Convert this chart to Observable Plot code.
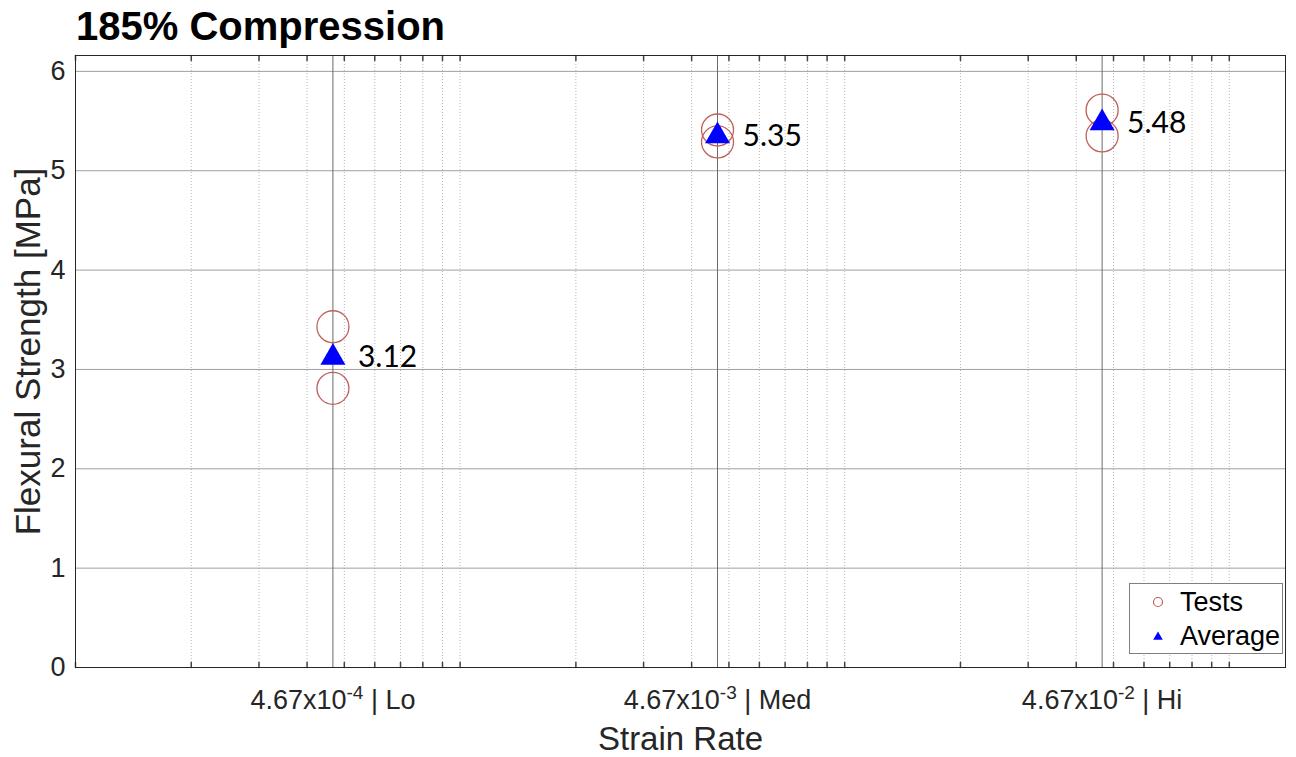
<!DOCTYPE html>
<html>
<head>
<meta charset="utf-8">
<script src="https://cdn.jsdelivr.net/npm/d3@7"></script>
<script src="https://cdn.jsdelivr.net/npm/@observablehq/plot@0.6"></script>
<style>
  html, body { margin: 0; padding: 0; background: #fff; }
  #wrap { position: relative; width: 1296px; height: 757px; overflow: hidden; font-family: "Liberation Sans", Arial, sans-serif; }
  #title { position: absolute; left: 76px; top: 4px; font-size: 40px; font-weight: bold; color: #000; line-height: 1.117; white-space: nowrap; }
  #chart { position: absolute; left: 0; top: 50px; }
  #legend { position: absolute; left: 1129px; top: 583px; width: 152px; height: 69px; border: 1px solid #7f7f7f; background: #fff; }
  #legend .row { position: absolute; left: 0; height: 34px; width: 152px; font-size: 27px; color: #000; line-height: 34px; }
  #legend svg { position: absolute; left: 18px; top: 7px; }
  #legend span { position: absolute; left: 50px; top: 0; }
</style>
</head>
<body>
<div id="wrap">
  <div id="title">185% Compression</div>
  <div id="chart"></div>
  <div id="legend"></div>
</div>
<script>
// ---- data ----
const rateValues = [4.67e-4, 4.67e-3, 4.67e-2];
const rateExponents = [-4, -3, -2];
const rateNames = ["Lo", "Med", "Hi"];
const testRate = [4.67e-4, 4.67e-4, 4.67e-3, 4.67e-3, 4.67e-2, 4.67e-2];
const testStrength = [3.43, 2.81, 5.41, 5.29, 5.61, 5.35];
const avgStrength = [3.12, 5.35, 5.48];
const yTicks = [0, 1, 2, 3, 4, 5, 6];
const xDomain = [1e-4, 0.14];
const yDomain = [0, 6.16];
const xLabel = "Strain Rate";
const yLabel = "Flexural Strength [MPa]";
const legendNames = ["Tests", "Average"];

// ---- tables ----
const tests = testRate.map((x, i) => ({x, y: testStrength[i]}));
const avgs = rateValues.map((x, i) => ({x, y: avgStrength[i]}));
const xTickLabels = rateValues.map((x, i) => ({x, label: `4.67x10^${rateExponents[i]} | ${rateNames[i]}`}));
const minorTicks = d3.scaleLog().domain(xDomain).ticks();

const testColor = "#c0605c";
const avgColor = "#0000ff";
const font = '"Liberation Sans", Arial, sans-serif';

const tickLine = {draw(context, l) { context.moveTo(0, 0); context.lineTo(0, -l); }};

const plot = Plot.plot({
  width: 1296,
  height: 707,
  marginTop: 5,
  marginBottom: 90,
  marginLeft: 75,
  marginRight: 11,
  style: {fontFamily: font, background: "transparent"},
  x: {type: "log", domain: xDomain, axis: null},
  y: {domain: yDomain, axis: null},
  marks: [
    Plot.ruleX(minorTicks, {x: d => d, stroke: "#b5b5b5", strokeWidth: 1, strokeDasharray: "1,2"}),
    Plot.ruleY(yTicks.filter(d => d > 0), {y: d => d, stroke: "#a0a0a0", strokeWidth: 1}),
    Plot.ruleX(rateValues, {x: d => d, stroke: "#6a6a6a", strokeWidth: 1}),
    Plot.vector(minorTicks, {x: d => d, frameAnchor: "bottom", length: 5, rotate: 0, anchor: "start", shape: tickLine, stroke: "#444"}),
    Plot.vector(minorTicks, {x: d => d, frameAnchor: "top", length: 5, rotate: 180, anchor: "start", shape: tickLine, stroke: "#444"}),
    Plot.frame({stroke: "#262626", strokeWidth: 1}),
    Plot.dot(tests, {x: "x", y: "y", r: 16, stroke: testColor, strokeWidth: 1.3, fill: "none"}),
    Plot.dot(avgs, {x: "x", y: "y", r: 9.3, symbol: "triangle", fill: avgColor, stroke: "none"}),
    Plot.text(avgs, {x: "x", y: "y", text: d => d.y.toFixed(2), dx: 25, textAnchor: "start", lineAnchor: "middle", fontSize: 30, fontFamily: "Lato, 'Open Sans', sans-serif", fill: "#000"}),
    Plot.text(yTicks, {y: d => d, text: d => String(d), frameAnchor: "left", dx: -10, textAnchor: "end", lineAnchor: "middle", fontSize: 27, fill: "#262626"}),
    Plot.text(xTickLabels, {x: "x", text: "label", frameAnchor: "bottom", dy: 33, textAnchor: "middle", lineAnchor: "middle", fontSize: 27, fill: "#262626", className: "xticklab"}),
    Plot.text([xLabel], {text: d => d, frameAnchor: "bottom", dy: 72, textAnchor: "middle", lineAnchor: "middle", fontSize: 33, fill: "#262626"}),
    Plot.text([yLabel], {text: d => d, frameAnchor: "left", dx: -47, dy: -10, rotate: -90, textAnchor: "middle", lineAnchor: "middle", fontSize: 35, fill: "#262626"})
  ]
});
document.getElementById("chart").appendChild(plot);

// superscripts in x tick labels
plot.querySelectorAll(".xticklab text").forEach(t => {
  const s = t.textContent;
  const m = s.match(/^(.*)\^(-?\d+)(.*)$/);
  if (!m) return;
  while (t.firstChild) t.removeChild(t.firstChild);
  const ns = "http://www.w3.org/2000/svg";
  const a = document.createElementNS(ns, "tspan"); a.textContent = m[1];
  const b = document.createElementNS(ns, "tspan"); b.textContent = m[2];
  b.setAttribute("font-size", "19"); b.setAttribute("dy", "-10");
  const c = document.createElementNS(ns, "tspan"); c.textContent = m[3];
  c.setAttribute("dy", "10");
  t.appendChild(a); t.appendChild(b); t.appendChild(c);
});

// legend
const legend = document.getElementById("legend");
legendNames.forEach((name, i) => {
  const row = document.createElement("div");
  row.className = "row";
  row.style.top = (i * 34 + 1) + "px";
  const sym = i === 0
    ? `<svg width="20" height="20"><circle cx="10" cy="10" r="4.5" fill="none" stroke="${testColor}" stroke-width="1.2"/></svg>`
    : `<svg width="20" height="20"><path d="${d3.symbol(d3.symbolTriangle, 40)()}" transform="translate(10,11)" fill="${avgColor}"/></svg>`;
  row.innerHTML = sym + `<span>${name}</span>`;
  legend.appendChild(row);
});
</script>
</body>
</html>
